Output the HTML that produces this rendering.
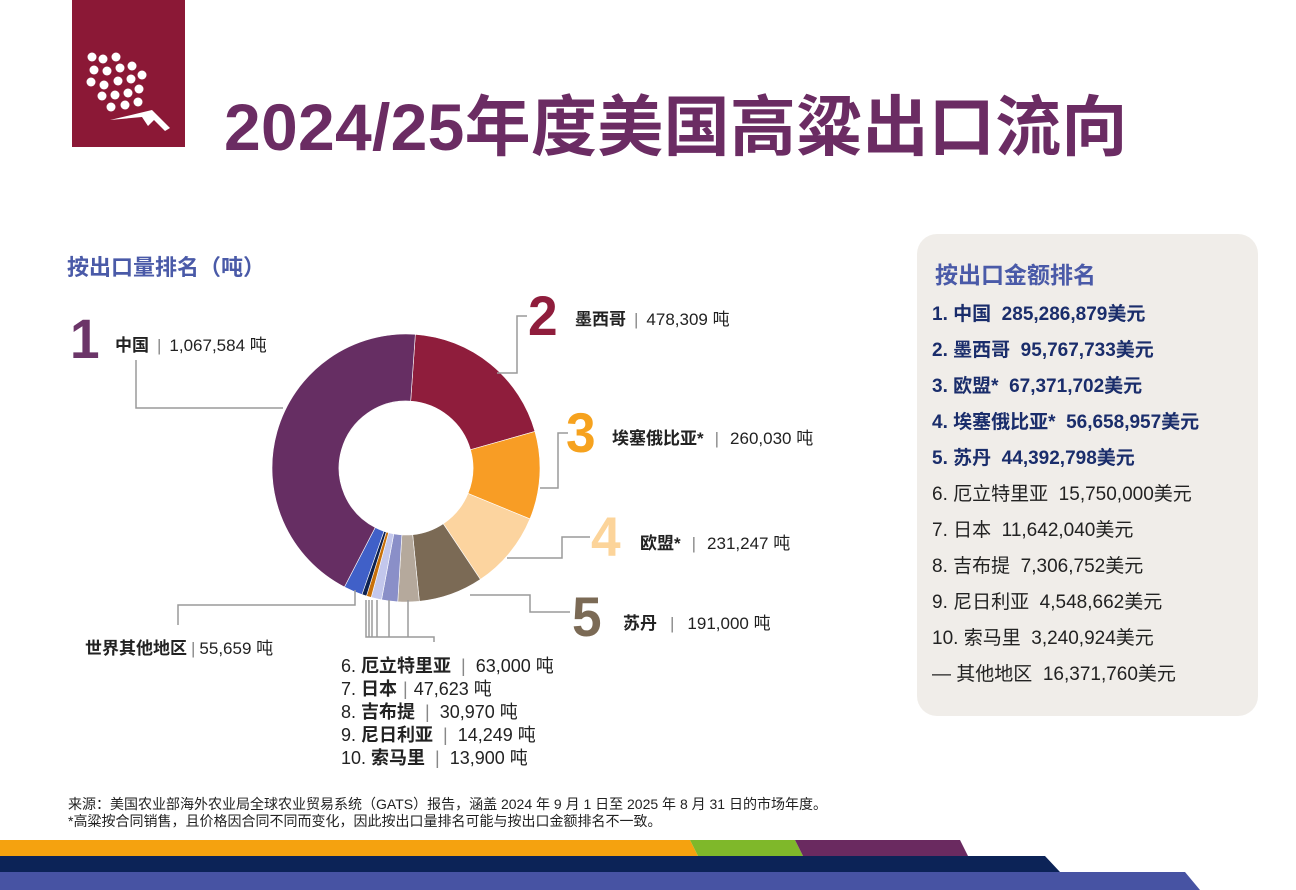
<!DOCTYPE html>
<html><head><meta charset="utf-8"><style>
*{margin:0;padding:0;box-sizing:border-box}
body{width:1296px;height:890px;position:relative;background:#fff;font-family:"Liberation Sans","Noto Sans CJK SC",sans-serif;color:#222;overflow:hidden}
.a{position:absolute;white-space:nowrap}
.b{font-weight:bold}
.sep{color:#888;margin:0 6px}
.num{font-family:"Liberation Sans",sans-serif;font-weight:bold;font-size:56px;line-height:1;transform:scaleX(.95);transform-origin:left top}
.r{font-size:19px;line-height:36px}
</style></head><body>
<div class="a" style="left:72px;top:0;width:113px;height:147px;background:#8b1836"></div>
<svg class="a" style="left:72px;top:0" width="113" height="147" viewBox="0 0 113 147">
<g fill="#fff">
<circle cx="20" cy="57" r="4.5"/><circle cx="31" cy="59" r="4.5"/><circle cx="44" cy="57" r="4.5"/>
<circle cx="22" cy="70" r="4.5"/><circle cx="35" cy="71" r="4.5"/><circle cx="48" cy="68" r="4.5"/><circle cx="60" cy="66" r="4.5"/>
<circle cx="19" cy="82" r="4.5"/><circle cx="32" cy="85" r="4.5"/><circle cx="46" cy="81" r="4.5"/><circle cx="59" cy="79" r="4.5"/><circle cx="70" cy="75" r="4.5"/>
<circle cx="30" cy="96" r="4.5"/><circle cx="43" cy="95" r="4.5"/><circle cx="56" cy="93" r="4.5"/><circle cx="67" cy="89" r="4.5"/>
<circle cx="39" cy="107" r="4.5"/><circle cx="53" cy="105" r="4.5"/><circle cx="66" cy="102" r="4.5"/>
<path d="M38 120 L80 110 L98 128 L93 131 L82 120 L76 126 L70 117 Z"/>
</g></svg>
<div class="a b" style="left:224px;top:74px;font-size:66px;color:#6b2c63;letter-spacing:0.3px">2024/25年度美国高粱出口流向</div>

<div class="a b" style="left:67px;top:250px;font-size:22px;color:#4a5aa8">按出口量排名（吨）</div>

<svg class="a" style="left:0;top:0" width="1296" height="890">
<g id="donut"></g>
<g fill="none" stroke="#9a9a9a" stroke-width="1.5">
<polyline points="136,360 136,408 283,408"/>
<polyline points="497,373 517,373 517,316 527,316"/>
<polyline points="540,488 558,488 558,433 568,433"/>
<polyline points="507,558 562,558 562,537 590,537"/>
<polyline points="470,595 530,595 530,612 570,612"/>
<polyline points="355,590 355,605 178,605 178,625"/>
<polyline points="366,600 366,637 434,637 434,642"/>
<line x1="369" y1="600" x2="369" y2="637"/><line x1="372" y1="600" x2="372" y2="637"/>
<line x1="377" y1="600" x2="377" y2="637"/><line x1="389" y1="600" x2="389" y2="637"/><line x1="408" y1="600" x2="408" y2="637"/>
</g>
</svg>

<div class="a num" style="left:70px;top:311px;color:#6b3568">1</div>
<div class="a num" style="left:528px;top:288px;color:#8f1d3c">2</div>
<div class="a num" style="left:566px;top:405px;color:#f6a21e">3</div>
<div class="a num" style="left:591px;top:509px;color:#fcd49a">4</div>
<div class="a num" style="left:572px;top:589px;color:#7b6a55">5</div>

<div class="a" style="left:115px;top:331px;font-size:17px"><span class="b">中国</span><span class="sep" style="margin:0 8px">|</span>1,067,584 吨</div>
<div class="a" style="left:575px;top:305px;font-size:17px"><span class="b">墨西哥</span><span class="sep" style="margin:0 8px">|</span>478,309 吨</div>
<div class="a" style="left:612px;top:424px;font-size:17px"><span class="b">埃塞俄比亚*</span><span class="sep" style="margin:0 11px">|</span>260,030 吨</div>
<div class="a" style="left:640px;top:529px;font-size:17px"><span class="b">欧盟*</span><span class="sep" style="margin:0 11px">|</span>231,247 吨</div>
<div class="a" style="left:623px;top:609px;font-size:17px"><span class="b">苏丹</span><span class="sep" style="margin:0 13px">|</span>191,000 吨</div>
<div class="a" style="left:85px;top:634px;font-size:17px"><span class="b">世界其他地区</span><span class="sep" style="margin:0 4px">|</span>55,659 吨</div>

<div class="a" style="left:341px;top:655px;font-size:18px;line-height:23px">
6. <span class="b">厄立特里亚</span><span class="sep" style="margin:0 10px">|</span>63,000 吨<br>
7. <span class="b">日本</span><span class="sep" style="margin:0 6px">|</span>47,623 吨<br>
8. <span class="b">吉布提</span><span class="sep" style="margin:0 10px">|</span>30,970 吨<br>
9. <span class="b">尼日利亚</span><span class="sep" style="margin:0 10px">|</span>14,249 吨<br>
10. <span class="b">索马里</span><span class="sep" style="margin:0 10px">|</span>13,900 吨</div>

<div class="a" style="left:917px;top:234px;width:341px;height:482px;background:#f0ede9;border-radius:20px"></div>
<div class="a b" style="left:935px;top:256px;font-size:23px;color:#4a5aa8">按出口金额排名</div>
<div class="a r" style="left:932px;top:297px">
<div class="b" style="color:#1a2d6b">1. 中国&nbsp; 285,286,879美元</div>
<div class="b" style="color:#1a2d6b">2. 墨西哥&nbsp; 95,767,733美元</div>
<div class="b" style="color:#1a2d6b">3. 欧盟*&nbsp; 67,371,702美元</div>
<div class="b" style="color:#1a2d6b">4. 埃塞俄比亚*&nbsp; 56,658,957美元</div>
<div class="b" style="color:#1a2d6b">5. 苏丹&nbsp; 44,392,798美元</div>
<div>6. 厄立特里亚&nbsp; 15,750,000美元</div>
<div>7. 日本&nbsp; 11,642,040美元</div>
<div>8. 吉布提&nbsp; 7,306,752美元</div>
<div>9. 尼日利亚&nbsp; 4,548,662美元</div>
<div>10. 索马里&nbsp; 3,240,924美元</div>
<div>— 其他地区&nbsp; 16,371,760美元</div>
</div>

<div class="a" style="left:68px;top:796px;font-size:14px;line-height:17px;color:#222">来源：美国农业部海外农业局全球农业贸易系统（GATS）报告，涵盖 2024 年 9 月 1 日至 2025 年 8 月 31 日的市场年度。<br>*高粱按合同销售，且价格因合同不同而变化，因此按出口量排名可能与按出口金额排名不一致。</div>

<svg class="a" style="left:0;top:838px" width="1296" height="52">
<polygon points="0,2 690,2 698,18 0,18" fill="#f5a20f"/>
<polygon points="690,2 795,2 803,18 698,18" fill="#7fb82a"/>
<polygon points="795,2 960,2 968,18 803,18" fill="#6a2a60"/>
<polygon points="0,18 1045,18 1060,34 0,34" fill="#0c2357"/>
<polygon points="0,34 1185,34 1200,52 0,52" fill="#4753a3"/>
</svg>

<script>
var cx=406,cy=468,R=134,r=67;
var d=[["#8f1d3c",478309],["#f89d25",260030],["#fcd49f",231247],["#7b6a55",191000],["#b5a99c",63000],["#8a8fc8",47623],["#c3c7ec",30970],["#c8700a",14249],["#0d2150",13900],["#4060c8",55659],["#662e63",1067584]];
var tot=0;d.forEach(function(x){tot+=x[1]});
var a=4*Math.PI/180,g=document.getElementById("donut"),s="";
function p(t,rad){return (cx+rad*Math.sin(t)).toFixed(2)+","+(cy-rad*Math.cos(t)).toFixed(2)}
d.forEach(function(x){var b=a+x[1]/tot*2*Math.PI;var l=(b-a)>Math.PI?1:0;
s+='<path fill="'+x[0]+'" stroke="#fff" stroke-width="0.6" d="M'+p(a,R)+' A'+R+','+R+' 0 '+l+' 1 '+p(b,R)+' L'+p(b,r)+' A'+r+','+r+' 0 '+l+' 0 '+p(a,r)+' Z"/>';a=b;});
g.innerHTML=s;
</script>
</body></html>
